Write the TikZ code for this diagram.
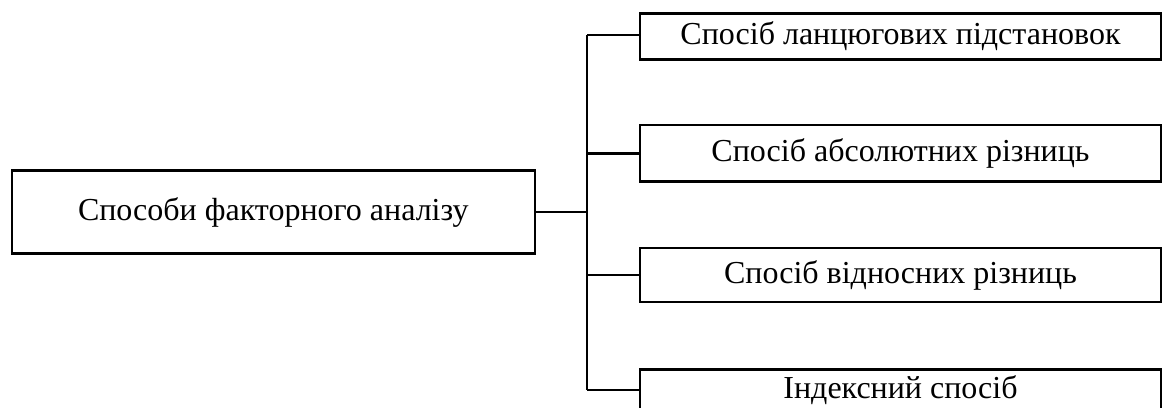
\documentclass[tikz,border=0pt]{standalone}
\usepackage{fontspec}
\setmainfont{Liberation Serif}
\tikzset{
  box/.style={draw, line width=2.6pt, minimum width=521pt, inner sep=0pt,
    font=\fontsize{32}{36}\selectfont},
  link/.style={line width=2.6pt}
}
\begin{document}
\begin{tikzpicture}[x=1pt, y=-1pt]
  \useasboundingbox (0,0) rectangle (1170,407);
  \clip (0,0) rectangle (1170,407);
  % root box on the left
  \node[box, minimum width=523pt, minimum height=82.6pt] (root) at (273.3,212) {Способи факторного аналізу};
  % methods on the right
  \node[box, minimum height=46pt]   (m1) at (900.5,36.3)  {Спосіб ланцюгових підстановок};
  \node[box, minimum height=56.7pt] (m2) at (900.5,153.3) {Спосіб абсолютних різниць};
  \node[box, minimum height=54pt]   (m3) at (900.5,275)   {Спосіб відносних різниць};
  \node[box, minimum height=42pt]   (m4) at (900.5,390.5) {Індексний спосіб};
  % tree connectors
  \coordinate (hub) at (587,212);
  \coordinate (top) at (587,35);
  \coordinate (bot) at (587,390);
  \draw[link] (root.east) -- (hub);
  \draw[link] (top) -- (bot);
  \draw[link] (top) -- (top -| m1.west);
  \draw[link] (hub |- m2.west) -- (m2.west);
  \draw[link] (hub |- m3.west) -- (m3.west);
  \draw[link] (bot) -- (bot -| m4.west);
\end{tikzpicture}
\end{document}
